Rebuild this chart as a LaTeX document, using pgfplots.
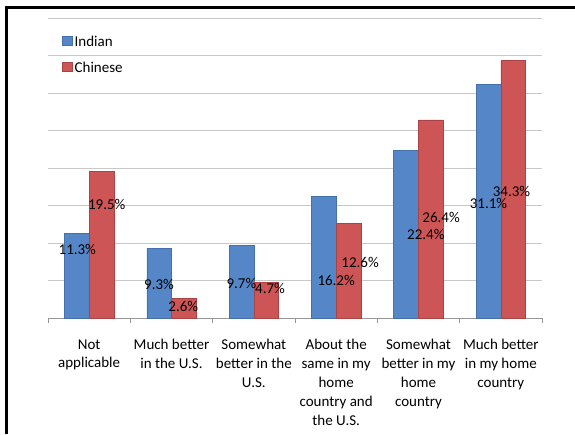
\documentclass[border=0pt]{standalone}
\usepackage{fontspec}
\setmainfont{Carlito}
\usepackage{pgfplots}
\pgfplotsset{compat=1.18}
\definecolor{indblue}{RGB}{85,135,200}
\definecolor{indedge}{RGB}{70,112,170}
\definecolor{chnred}{RGB}{205,85,85}
\definecolor{chnedge}{RGB}{170,68,68}
\definecolor{gridgray}{RGB}{200,200,200}
\definecolor{axgray}{RGB}{150,150,150}
\begin{document}
\begin{tikzpicture}[x=1pt,y=1pt]
\begin{axis}[
    at={(0,0)}, anchor=south west,
    scale only axis,
    width=494pt, height=300pt,
    xmin=-0.5, xmax=5.5,
    ymin=0, ymax=40,
    axis x line*=bottom, axis y line*=left,
    y axis line style={draw=none},
    x axis line style={axgray, line width=0.8pt, -},
    ytick={0,5,...,40}, yticklabels={}, ytick style={draw=none},
    ymajorgrids, grid style={gridgray, line width=0.8pt},
    xtick={0,...,5},
    xticklabels={Not\\applicable, Much better\\in the U.S., Somewhat\\better in the\\U.S., About the\\same in my\\home\\country and\\the U.S., Somewhat\\better in my\\home\\country, Much better\\in my home\\country},
    xticklabel style={align=center, font=\fontsize{15}{18.8}\selectfont, yshift=-18pt},
    major x tick style={draw=none},
    minor xtick={-0.5,0.5,...,5.5},
    minor x tick style={axgray, line width=0.8pt},
    minor tick length=5pt, major tick length=0pt,
    xtick align=outside,
    legend style={draw=none, fill=none, at={(0.022,0.955)}, anchor=north west,
        font=\fontsize{15}{18.8}\selectfont, row sep=10pt,
        cells={anchor=west}},
    legend image code/.code={\draw[#1, line width=0.6pt] (0pt,-4pt) rectangle (10pt,5pt);},
    every node near coord/.append style={text=black, anchor=center, font=\fontsize{15}{18}\selectfont},
]
\addplot[ybar, bar width=0.3, bar shift=-0.15, fill=indblue, draw=indedge, line width=0.6pt]
    coordinates {(0,11.3) (1,9.3) (2,9.7) (3,16.2) (4,22.4) (5,31.1)};
\addplot[ybar, bar width=0.3, bar shift=0.15, fill=chnred, draw=chnedge, line width=0.6pt]
    coordinates {(0,19.5) (1,2.6) (2,4.7) (3,12.6) (4,26.4) (5,34.3)};
\legend{Indian, Chinese}
% data labels, placed where the original chart puts them
\addplot[only marks, mark=none, forget plot, point meta=explicit symbolic,
    nodes near coords={\pgfplotspointmeta\%}]
    coordinates {
    (-0.144,9.14) [11.3]
    (0.213,15.12) [19.5]
    (0.849,4.48) [9.3]
    (1.144,1.50) [2.6]
    (1.849,4.61) [9.7]
    (2.197,3.95) [4.7]
    (3.0,5.05) [16.2]
    (3.291,7.41) [12.6]
    (4.089,11.17) [22.4]
    (4.275,13.39) [26.4]
    (4.85,15.33) [31.1]
    (5.13,16.93) [34.3]
    };
\end{axis}
\pgfresetboundingbox
\useasboundingbox (-48,-116) rectangle (527,318);
\draw[line width=3pt] (-41.5,-116) -- (-41.5,310.5) -- (527,310.5);
\end{tikzpicture}
\end{document}
